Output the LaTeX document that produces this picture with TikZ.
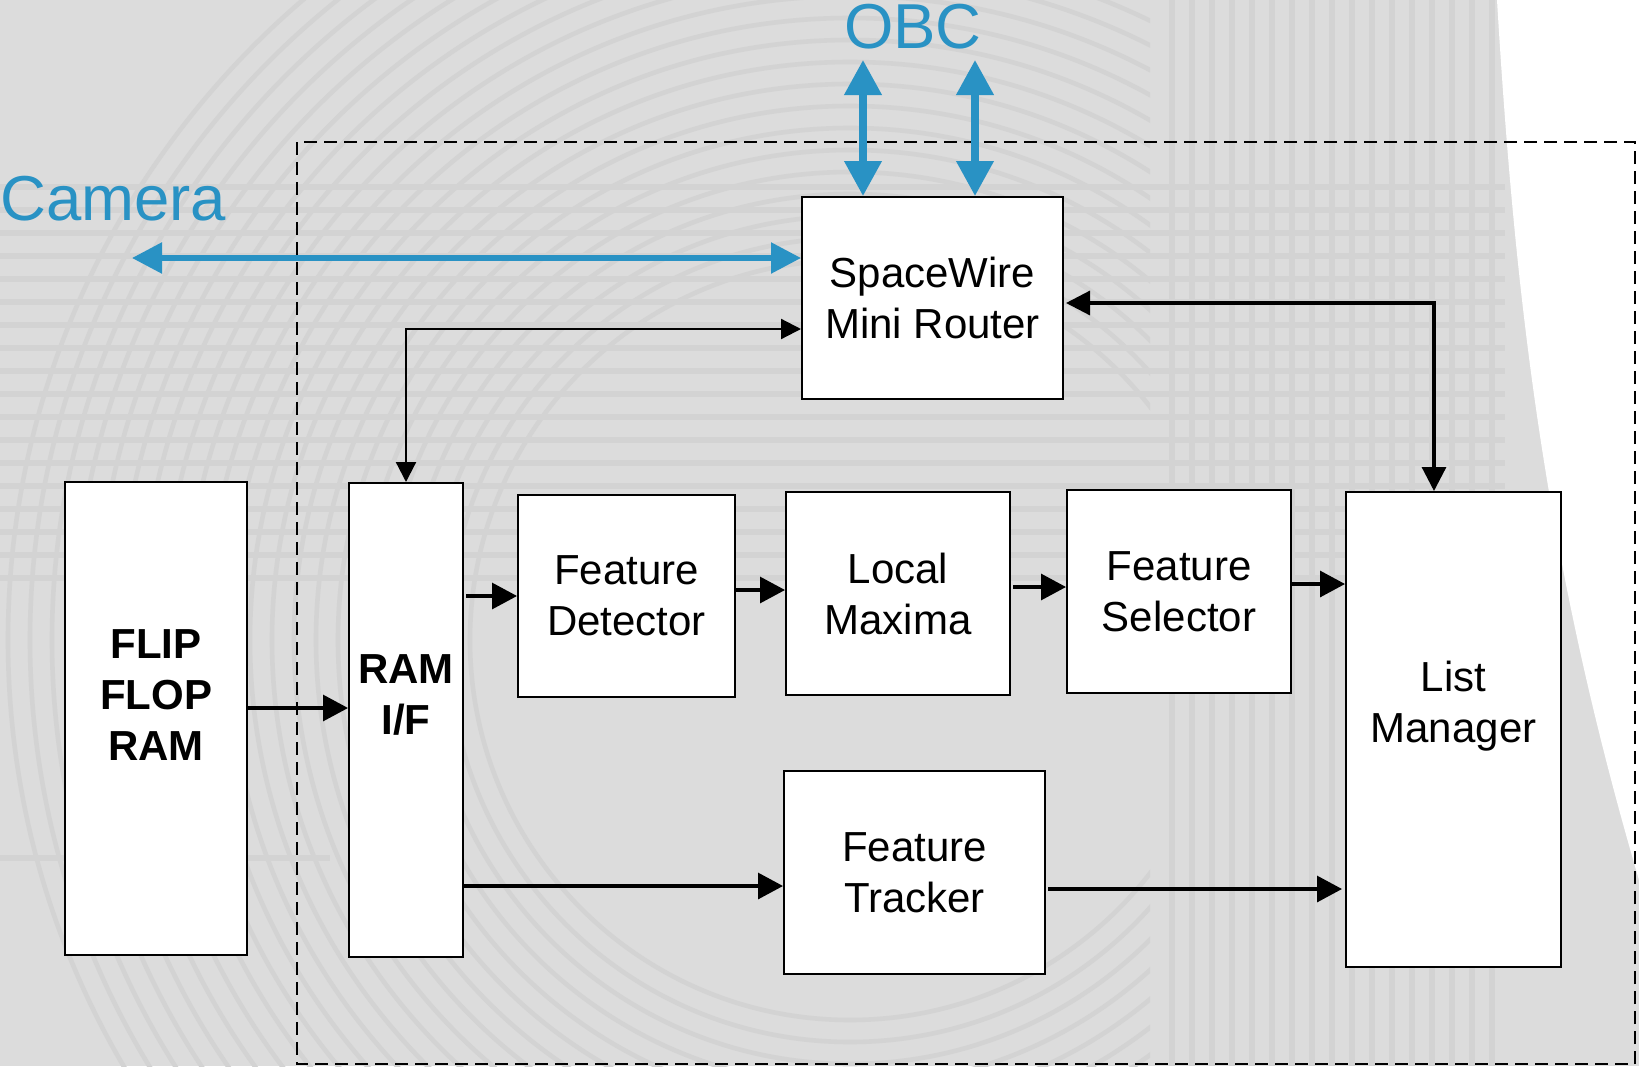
\documentclass[tikz,border=0pt]{standalone}
\usepackage{fontspec}
\setmainfont{Liberation Sans}
\usetikzlibrary{arrows.meta}
\definecolor{bg}{HTML}{DCDCDC}
\definecolor{stripe}{HTML}{D3D3D3}
\definecolor{ring}{HTML}{D3D3D3}
\definecolor{swblue}{HTML}{2992C4}

\begin{document}
\begin{tikzpicture}[x=0.5pt,y=-0.5pt,
  box/.style={draw=black, line width=1pt, fill=white, inner sep=0pt, align=center,
              font=\fontsize{21}{25.5}\selectfont},
  lbl/.style={inner sep=0pt, align=center, font=\fontsize{21}{25.5}\selectfont},
  boldlbl/.style={lbl, font=\fontsize{21}{25.5}\selectfont\bfseries},
  biglbl/.style={inner sep=0pt, text=swblue, font=\fontsize{31.75}{36}\selectfont},
  flow/.style={line width=1.6pt, -{Triangle[length=12.5pt,width=13pt]}},
  link/.style={line width=1.6pt, {Triangle[length=12pt,width=12pt]}-{Triangle[length=12pt,width=12pt]}},
  thinlink/.style={line width=1.1pt, {Triangle[length=10pt,width=10pt]}-{Triangle[length=10pt,width=10pt]}},
  obclink/.style={draw=swblue, line width=3.6pt, {Triangle[length=17.5pt,width=18pt]}-{Triangle[length=17.5pt,width=18pt]}},
  camlink/.style={draw=swblue, line width=2.75pt, {Triangle[length=15pt,width=15pt]}-{Triangle[length=15pt,width=15pt]}},
]
\useasboundingbox (0,0) rectangle (1639,1066);

% ---- backdrop: grey field, faint grid stripes, rings and the white sweep on the right
\fill[bg] (0,0) rectangle (1639,1066);
\begin{scope}
  \clip (0,0) rectangle (1150,1066);
  \foreach \rr in {380,402,...,860} \draw[ring, line width=2.3pt] (850,640) circle[radius=\rr];
\end{scope}
\begin{scope}[line width=2.6pt, draw=stripe]
  \foreach \yy in {187,210,...,580} \draw (0,\yy) -- (1505,\yy);
  \draw (0,858) -- (330,858);
  \foreach \xx in {1172,1192,...,1500} \draw (\xx,0) -- (\xx,1066);
\end{scope}
\fill[white] (1497,0) .. controls (1515,300) and (1545,560) .. (1639,880) -- (1639,0) -- cycle;

% ---- processing boundary
\draw[line width=1pt, dash pattern=on 6.5pt off 3.5pt] (297,142) rectangle (1635,1064);

% ---- blocks
\node[box, minimum width=130.5pt, minimum height=101pt]   (sw)   at (932.5,298)  {SpaceWire\\Mini Router};
\node[box, minimum width=91pt,    minimum height=236.5pt] (ffr)  at (156,718.5)  {};
\node[box, minimum width=57pt,    minimum height=237pt]   (ram)  at (406,720)    {};
\node[box, minimum width=108.5pt, minimum height=101pt]   (fd)   at (626.5,596)  {Feature\\Detector};
\node[box, minimum width=112pt,   minimum height=101.5pt] (lmax) at (898,593.5)  {Local\\Maxima};
\node[box, minimum width=112pt,   minimum height=101.5pt] (fs)   at (1179,591.5) {Feature\\Selector};
\node[box, minimum width=130.5pt, minimum height=101.5pt] (ft)   at (914.5,872.5){Feature\\Tracker};
\node[box, minimum width=107.5pt, minimum height=237.5pt] (lm)   at (1453.5,729.5) {};

\node[boldlbl] (ffrtxt) at (156,695)    {FLIP\\FLOP\\RAM};
\node[boldlbl] (ramtxt) at (406,695)    {RAM\\I/F};
\node[lbl]     (lmtxt)  at (1453.5,706) {List\\Manager};

% ---- external interfaces
\node[biglbl, anchor=base]      (obc) at (913,48) {OBC};
\node[biglbl, anchor=base west] (cam) at (0,220)  {Camera};

\coordinate (obcA) at (863,60);
\coordinate (obcB) at (975,60);
\coordinate (camEnd) at (132,258);
\draw[obclink] (obcA) -- (sw.north -| obcA);
\draw[obclink] (obcB) -- (sw.north -| obcB);
\draw[camlink] (camEnd) -- (sw.west |- camEnd);

% ---- data paths
\coordinate (r1) at (0,708);
\coordinate (r2) at (0,596);
\coordinate (r3) at (0,590);
\coordinate (r4) at (0,587);
\coordinate (r5) at (0,584);
\coordinate (r6) at (0,886);
\coordinate (r7) at (0,889);
\draw[flow] (ffr.east |- r1) -- (ram.west |- r1);
\draw[flow] ([xshift=1pt]ram.east |- r2) -- (fd.west |- r2);
\draw[flow] (fd.east |- r3) -- (lmax.west |- r3);
\draw[flow] ([xshift=1pt]lmax.east |- r4) -- (fs.west |- r4);
\draw[flow] (fs.east |- r5) -- (lm.west |- r5);
\draw[flow] (ram.east |- r6) -- (ft.west |- r6);
\draw[flow] ([xshift=1pt]ft.east |- r7) -- ([xshift=-1.5pt]lm.west |- r7);

\coordinate (ramlink) at (406,329);
\coordinate (lmlink)  at (1434,303);
\draw[thinlink] (sw.west |- ramlink) -| (ram.north);
\draw[link] ([xshift=1pt]sw.east |- lmlink) -| (lm.north -| lmlink);
\end{tikzpicture}
\end{document}
